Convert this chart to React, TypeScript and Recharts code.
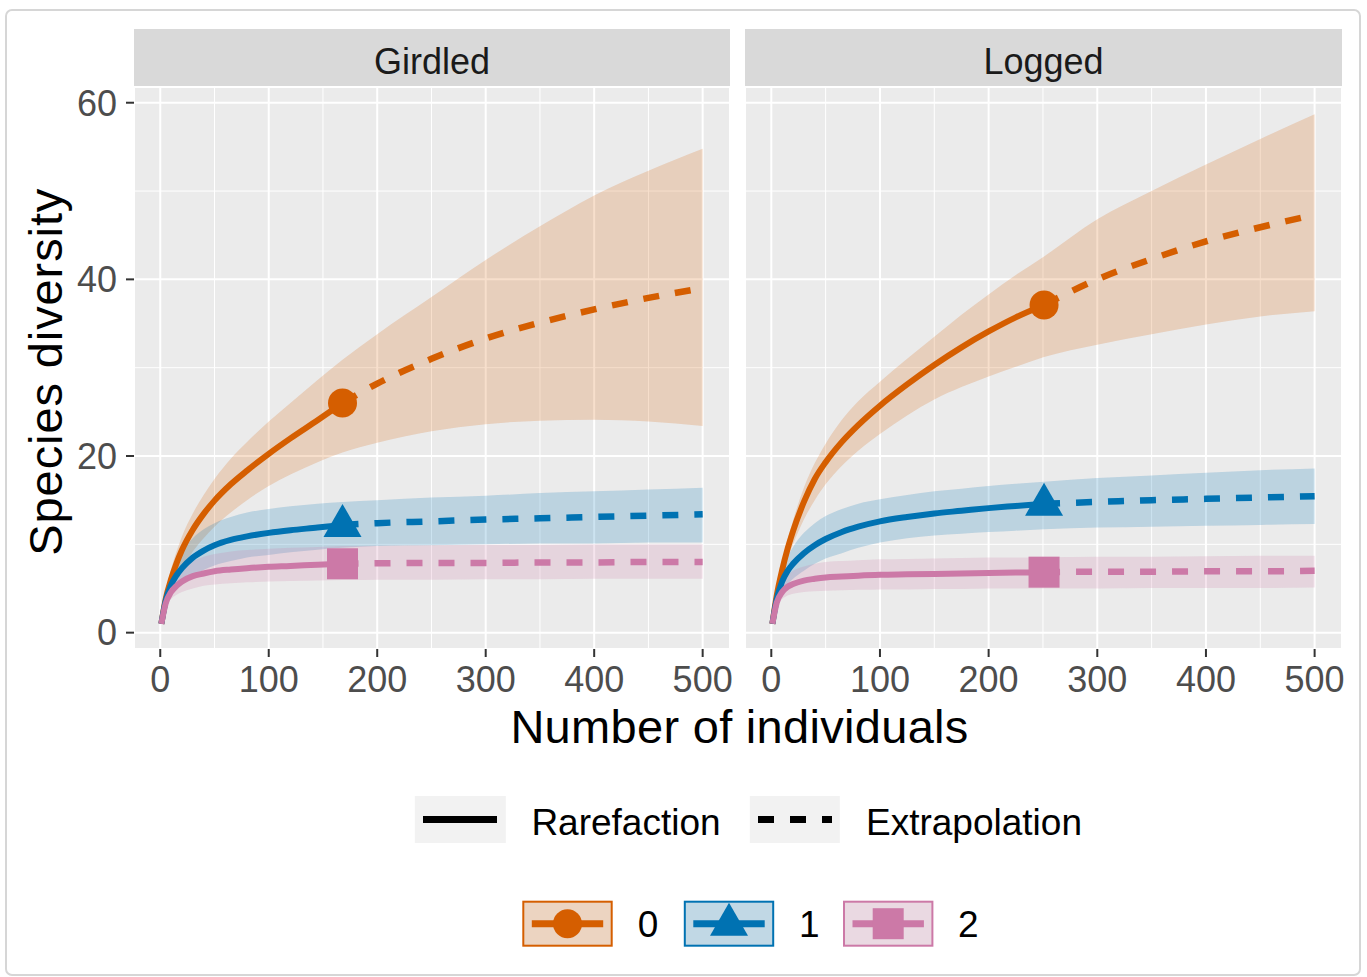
import React from 'react';
import { ComposedChart, Area, Line, XAxis, YAxis, CartesianGrid } from 'recharts';

// ggplot-ish colours for q = 0, 1, 2
const COLORS = ['#D55E00', '#0072B2', '#CC79A7'];
const ORDERS = ['0', '1', '2'];
const X_TICKS = [0, 100, 200, 300, 400, 500];
const X_MINOR = [50, 150, 250, 350, 450];
const Y_TICKS = [0, 20, 40, 60];
const Y_MINOR = [10, 30, 50];
const X_DOMAIN = [-24.2, 525.2];
const Y_DOMAIN = [-1.85, 61.78];

// Girdled
const G_OBS = 168;
const G_X = [1, 5, 10, 15, 20, 30, 40, 50, 65, 80, 100, 120, 145, 168, 200, 250, 300, 350, 400, 450, 500];
const G_Q0 = [1, 3.8, 6.05, 7.85, 9.35, 11.65, 13.45, 14.95, 16.8, 18.35, 20.25, 22.0, 24.05, 26.0, 28.2, 31.0, 33.3, 35.1, 36.6, 37.9, 39.0];
const G_Q0_LO = [1, 3.2, 5.0, 6.3, 7.3, 9.2, 10.7, 12.0, 13.6, 15.0, 16.6, 17.9, 19.3, 20.4, 21.5, 22.8, 23.6, 24.0, 24.1, 23.9, 23.4];
const G_Q0_HI = [1, 4.5, 7.2, 9.2, 10.9, 13.5, 15.6, 17.4, 19.7, 21.6, 23.9, 26.0, 28.6, 30.9, 33.8, 38.0, 42.2, 46.0, 49.5, 52.3, 54.8];
const G_Q1 = [1, 3.6, 5.4, 6.5, 7.3, 8.5, 9.3, 9.9, 10.5, 10.9, 11.3, 11.6, 11.9, 12.2, 12.4, 12.6, 12.8, 12.95, 13.1, 13.25, 13.4];
const G_Q1_LO = [1, 3.0, 4.3, 5.0, 5.6, 6.5, 7.1, 7.6, 8.1, 8.5, 8.8, 9.1, 9.4, 9.6, 9.8, 9.9, 10.0, 10.1, 10.1, 10.2, 10.2];
const G_Q1_HI = [1, 4.2, 6.6, 8.1, 9.2, 10.7, 11.7, 12.4, 13.1, 13.6, 14.0, 14.3, 14.6, 14.8, 15.0, 15.3, 15.5, 15.8, 16.0, 16.2, 16.4];
const G_Q2 = [1, 3.3, 4.6, 5.3, 5.8, 6.4, 6.7, 6.95, 7.15, 7.3, 7.45, 7.55, 7.7, 7.8, 7.85, 7.9, 7.9, 7.95, 7.95, 8.0, 8.0];
const G_Q2_LO = [1, 2.8, 3.8, 4.3, 4.6, 5.0, 5.3, 5.45, 5.6, 5.7, 5.8, 5.85, 5.9, 5.95, 6.0, 6.0, 6.05, 6.05, 6.1, 6.1, 6.1];
const G_Q2_HI = [1, 3.8, 5.6, 6.6, 7.3, 8.1, 8.6, 8.9, 9.2, 9.35, 9.5, 9.6, 9.7, 9.8, 9.85, 9.9, 9.95, 9.95, 10.0, 10.0, 10.0];

// Logged
const L_OBS = 251;
const L_X = [1, 5, 10, 15, 20, 30, 40, 50, 65, 80, 100, 125, 150, 175, 200, 225, 251, 300, 350, 400, 450, 500];
const L_Q0 = [1, 4.2, 7.1, 9.5, 11.5, 14.8, 17.4, 19.3, 21.6, 23.5, 25.7, 28.1, 30.3, 32.3, 34.1, 35.7, 37.1, 40.0, 42.3, 44.3, 45.9, 47.3];
const L_Q0_LO = [1, 3.7, 6.3, 8.4, 10.0, 12.8, 15.0, 16.8, 18.9, 20.6, 22.5, 24.6, 26.4, 27.8, 29.0, 30.1, 31.2, 32.6, 33.8, 34.9, 35.8, 36.4];
const L_Q0_HI = [1, 4.7, 7.9, 10.5, 12.7, 16.4, 19.2, 21.4, 24.1, 26.2, 28.4, 31.0, 33.5, 36.0, 38.3, 40.5, 42.6, 46.8, 50.0, 53.0, 55.9, 58.7];
const L_Q1 = [1, 3.8, 5.8, 7.0, 7.8, 9.0, 9.9, 10.6, 11.4, 12.0, 12.6, 13.1, 13.5, 13.8, 14.1, 14.35, 14.6, 14.8, 15.0, 15.15, 15.3, 15.45];
const L_Q1_LO = [1, 3.1, 4.6, 5.5, 6.1, 7.0, 7.8, 8.4, 9.0, 9.6, 10.2, 10.7, 11.0, 11.2, 11.4, 11.55, 11.7, 11.9, 12.0, 12.1, 12.2, 12.3];
const L_Q1_HI = [1, 4.5, 7.0, 8.6, 9.7, 11.3, 12.4, 13.2, 14.0, 14.6, 15.1, 15.6, 16.0, 16.3, 16.6, 16.85, 17.1, 17.5, 17.8, 18.1, 18.4, 18.6];
const L_Q2 = [1, 3.4, 4.6, 5.2, 5.5, 5.9, 6.1, 6.25, 6.35, 6.45, 6.55, 6.6, 6.65, 6.7, 6.75, 6.8, 6.85, 6.9, 6.9, 6.95, 6.95, 7.0];
const L_Q2_LO = [1, 2.9, 3.8, 4.2, 4.4, 4.6, 4.7, 4.75, 4.8, 4.85, 4.9, 4.9, 4.95, 4.95, 5.0, 5.0, 5.0, 5.0, 5.05, 5.05, 5.05, 5.1];
const L_Q2_HI = [1, 4.0, 5.6, 6.5, 7.0, 7.5, 7.8, 8.0, 8.1, 8.2, 8.3, 8.35, 8.4, 8.45, 8.5, 8.5, 8.55, 8.6, 8.6, 8.65, 8.7, 8.7];

const FONT = '"Liberation Sans", Arial, Helvetica, sans-serif';

function buildRows(xs, obs, series) {
  return xs.map((x, j) => {
    const row: any = { x };
    series.forEach((s, i) => {
      row[`r${i}`] = x <= obs ? s[0][j] : null;
      row[`e${i}`] = x >= obs ? s[0][j] : null;
      row[`b${i}`] = [s[1][j], s[2][j]];
    });
    return row;
  });
}

const G_ROWS = buildRows(G_X, G_OBS, [[G_Q0, G_Q0_LO, G_Q0_HI], [G_Q1, G_Q1_LO, G_Q1_HI], [G_Q2, G_Q2_LO, G_Q2_HI]]);
const L_ROWS = buildRows(L_X, L_OBS, [[L_Q0, L_Q0_LO, L_Q0_HI], [L_Q1, L_Q1_LO, L_Q1_HI], [L_Q2, L_Q2_LO, L_Q2_HI]]);

const Marker = ({ order, cx, cy }) => {
  if (order === 0) return <circle cx={cx} cy={cy} r={14.5} fill={COLORS[0]} />;
  if (order === 1)
    return <polygon points={`${cx},${cy - 21} ${cx - 19},${cy + 12} ${cx + 19},${cy + 12}`} fill={COLORS[1]} />;
  return <rect x={cx - 15.5} y={cy - 15.5} width={31} height={31} fill={COLORS[2]} />;
};

const tickStyle = { fontSize: 36, fill: '#4D4D4D', fontFamily: FONT };
const PAD = 20; // room so edge tick labels are not clipped

function Facet({ rows, obs, showY, left, width }) {
  return (
    <div style={{ position: 'absolute', left, top: 87 - PAD }}>
      <ComposedChart width={width + PAD} height={622 + PAD} data={rows}
        margin={{ top: PAD, right: PAD, bottom: 0, left: 0 }}>
        <XAxis dataKey="x" type="number" domain={X_DOMAIN} ticks={X_TICKS} allowDataOverflow
          axisLine={false} tickSize={8} tickMargin={9} height={60}
          tickLine={{ stroke: '#333333', strokeWidth: 2 }} tick={tickStyle} interval={0} />
        <XAxis xAxisId="m" dataKey="x" type="number" domain={X_DOMAIN} ticks={X_MINOR} allowDataOverflow hide />
        <YAxis type="number" domain={Y_DOMAIN} ticks={Y_TICKS} allowDataOverflow hide={!showY}
          axisLine={false} tickSize={8} tickMargin={9} width={80}
          tickLine={{ stroke: '#333333', strokeWidth: 2 }} tick={tickStyle} interval={0} />
        <YAxis yAxisId="m" type="number" domain={Y_DOMAIN} ticks={Y_MINOR} allowDataOverflow hide />
        <CartesianGrid fill="#EBEBEB" fillOpacity={1} stroke="#FFFFFF" strokeWidth={2} />
        <CartesianGrid xAxisId="m" yAxisId="m" stroke="#FFFFFF" strokeWidth={1} />
        {ORDERS.map((o, i) => (
          <Area key={`b${i}`} dataKey={`b${i}`} type="monotone" stroke="none" fill={COLORS[i]}
            fillOpacity={0.2} isAnimationActive={false} activeDot={false} />
        ))}
        {ORDERS.map((o, i) => (
          <Line key={`e${i}`} dataKey={`e${i}`} type="monotone" stroke={COLORS[i]} strokeWidth={6.5}
            strokeDasharray="16 16" dot={false} activeDot={false} isAnimationActive={false} />
        ))}
        {ORDERS.map((o, i) => (
          <Line key={`r${i}`} dataKey={`r${i}`} type="monotone" stroke={COLORS[i]} strokeWidth={6}
            activeDot={false} isAnimationActive={false}
            dot={(p: any) => p.payload && p.payload.x === obs && p.cy != null
              ? <Marker key={`m${i}`} order={i} cx={p.cx} cy={p.cy} />
              : <g key={`n${i}-${p.index}`} />} />
        ))}
      </ComposedChart>
    </div>
  );
}

const LegendKey = ({ x, order }) => {
  const y = 901.7, w = 88.4, h = 44;
  const cx = x + w / 2, cy = y + h / 2;
  return (
    <g>
      <rect x={x} y={y} width={w} height={h} fill="#F2F2F2" />
      <rect x={x} y={y} width={w} height={h} fill={COLORS[order]} fillOpacity={0.2} stroke={COLORS[order]} strokeWidth={2} />
      <line x1={x + 8.5} x2={x + w - 8.5} y1={cy} y2={cy} stroke={COLORS[order]} strokeWidth={7} />
      <Marker order={order} cx={cx} cy={cy} />
    </g>
  );
};

export default function App() {
  return (
    <div style={{ position: 'absolute', left: 0, top: 0, width: 1367, height: 977, background: '#fff', fontFamily: FONT }}>
      <svg width={1367} height={977} style={{ position: 'absolute', left: 0, top: 0 }}>
        <rect x={6} y={10} width={1354} height={965} rx={6} fill="none" stroke="#D6D6D6" strokeWidth={2} />
        <rect x={134} y={29} width={596} height={58.5} fill="#D9D9D9" />
        <rect x={745} y={29} width={597} height={58.5} fill="#D9D9D9" />
        <text x={432} y={74} textAnchor="middle" fontSize={36} fill="#1A1A1A">Girdled</text>
        <text x={1043.5} y={74} textAnchor="middle" fontSize={36} fill="#1A1A1A">Logged</text>
        <text x={739.5} y={743.3} textAnchor="middle" fontSize={47} letterSpacing={0.3} fill="#000">Number of individuals</text>
        <text transform="translate(61.7,371.7) rotate(-90)" textAnchor="middle" fontSize={47} letterSpacing={0.9} fill="#000">Species diversity</text>

        <rect x={414.8} y={796} width={91} height={47} fill="#F2F2F2" />
        <line x1={423} x2={497} y1={819.5} y2={819.5} stroke="#000" strokeWidth={7} />
        <text x={531.4} y={835} fontSize={37} fill="#000">Rarefaction</text>
        <rect x={749.8} y={796} width={90} height={47} fill="#F2F2F2" />
        <line x1={758} x2={832} y1={819.5} y2={819.5} stroke="#000" strokeWidth={7} strokeDasharray="16 16" />
        <text x={866} y={835} fontSize={37} fill="#000">Extrapolation</text>

        <LegendKey x={523.3} order={0} />
        <text x={637.7} y={937} fontSize={37} fill="#000">0</text>
        <LegendKey x={684.8} order={1} />
        <text x={799} y={937} fontSize={37} fill="#000">1</text>
        <LegendKey x={844} order={2} />
        <text x={958} y={937} fontSize={37} fill="#000">2</text>
      </svg>
      <Facet rows={G_ROWS} obs={G_OBS} showY={true} left={54} width={676} />
      <Facet rows={L_ROWS} obs={L_OBS} showY={false} left={745} width={597} />
    </div>
  );
}
